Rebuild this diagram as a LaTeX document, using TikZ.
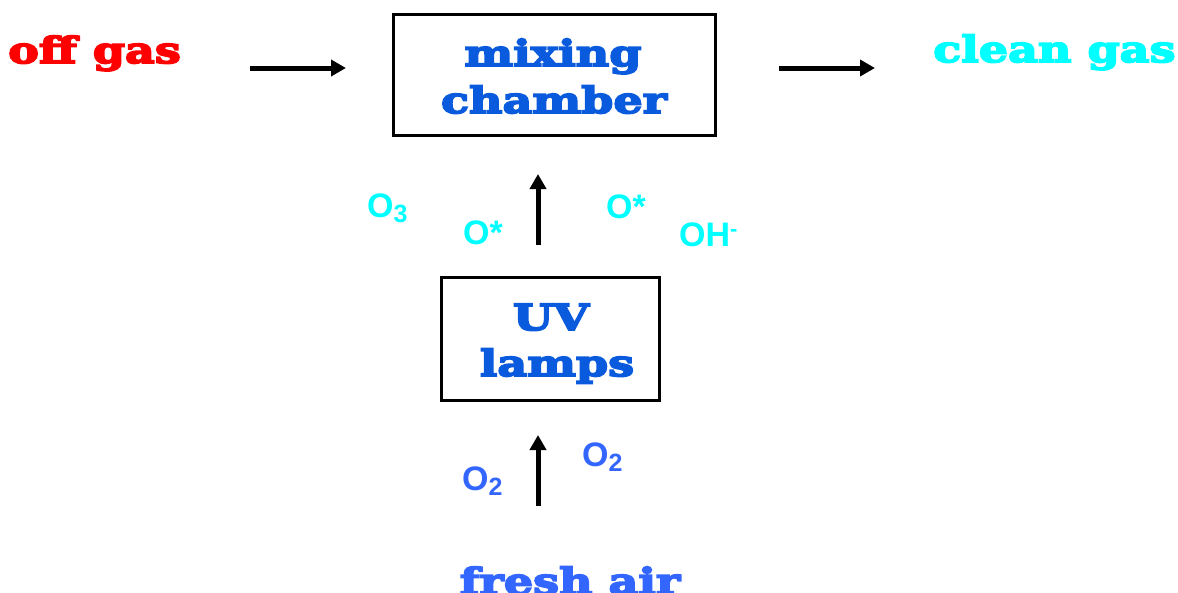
\documentclass[tikz,border=0pt]{standalone}
\usepackage{fontspec}
\usetikzlibrary{arrows.meta}
\newfontfamily\heavy{DejaVu Serif}[FakeStretch=1.28,FakeBold=5]
\newfontfamily\lsans{Liberation Sans}
\definecolor{offred}{RGB}{255,0,0}
\definecolor{cleancyan}{RGB}{0,255,255}
\definecolor{boxblue}{RGB}{10,90,222}
\definecolor{airblue}{RGB}{51,102,255}
\tikzset{
  heading/.style={inner sep=0pt, font=\heavy\bfseries\fontsize{36}{42}\selectfont},
  chem/.style={inner sep=0pt, font=\lsans\bfseries\fontsize{34}{40}\selectfont},
  unit/.style={draw=black, line width=3pt, fill=white},
  flow/.style={line width=5pt, -{Triangle[length=15pt,width=16pt]}},
}
\newcommand{\subnum}[1]{\raisebox{-0.32ex}{\fontsize{25}{30}\selectfont #1}}
\begin{document}
\begin{tikzpicture}[x=1pt,y=-1pt]
\useasboundingbox (0,0) rectangle (1178,592);
% boxes
\node[unit, minimum width=322pt, minimum height=121pt] (mix) at (554,74.5) {};
\node[unit, minimum width=218pt, minimum height=123pt] (uv) at (550,338.5) {};
% box texts
\node[heading, text=boxblue, anchor=base] (mixt1) at (553,66) {mixing};
\node[heading, text=boxblue, anchor=base] (mixt2) at (554,113) {chamber};
\node[heading, text=boxblue, anchor=base] (uvt1) at (551,330) {UV};
\node[heading, text=boxblue, anchor=base] (uvt2) at (557,376) {lamps};
% side texts
\node[heading, text=offred, anchor=base west] (off) at (8,63) {off gas};
\node[heading, text=cleancyan, anchor=base west] (clean) at (933,62) {clean gas};
\node[heading, text=airblue, anchor=base] (air) at (570,594) {fresh air};
% arrows
\coordinate (a1s) at (250,68); \coordinate (a1e) at (346,68);
\coordinate (a2s) at (779,68); \coordinate (a2e) at (875,68);
\coordinate (a3s) at (538,245); \coordinate (a3e) at (538,174);
\coordinate (a4s) at (538,506); \coordinate (a4e) at (538,435);
\draw[flow] (a1s) -- (a1e);
\draw[flow] (a2s) -- (a2e);
\draw[flow] (a3s) -- (a3e);
\draw[flow] (a4s) -- (a4e);
% chemical labels
\node[chem, text=cleancyan, anchor=base west] (o3) at (367,217) {O\subnum{3}};
\node[chem, text=cleancyan, anchor=base west] (os1) at (463,244) {O*};
\node[chem, text=cleancyan, anchor=base west] (os2) at (606,218) {O*};
\node[chem, text=cleancyan, anchor=base west] (oh) at (679,246) {OH\raisebox{0.55ex}{\fontsize{22}{26}\selectfont -}};
\node[chem, text=airblue, anchor=base west] (o2a) at (462,490) {O\subnum{2}};
\node[chem, text=airblue, anchor=base west] (o2b) at (582,466) {O\subnum{2}};
\end{tikzpicture}
\end{document}
